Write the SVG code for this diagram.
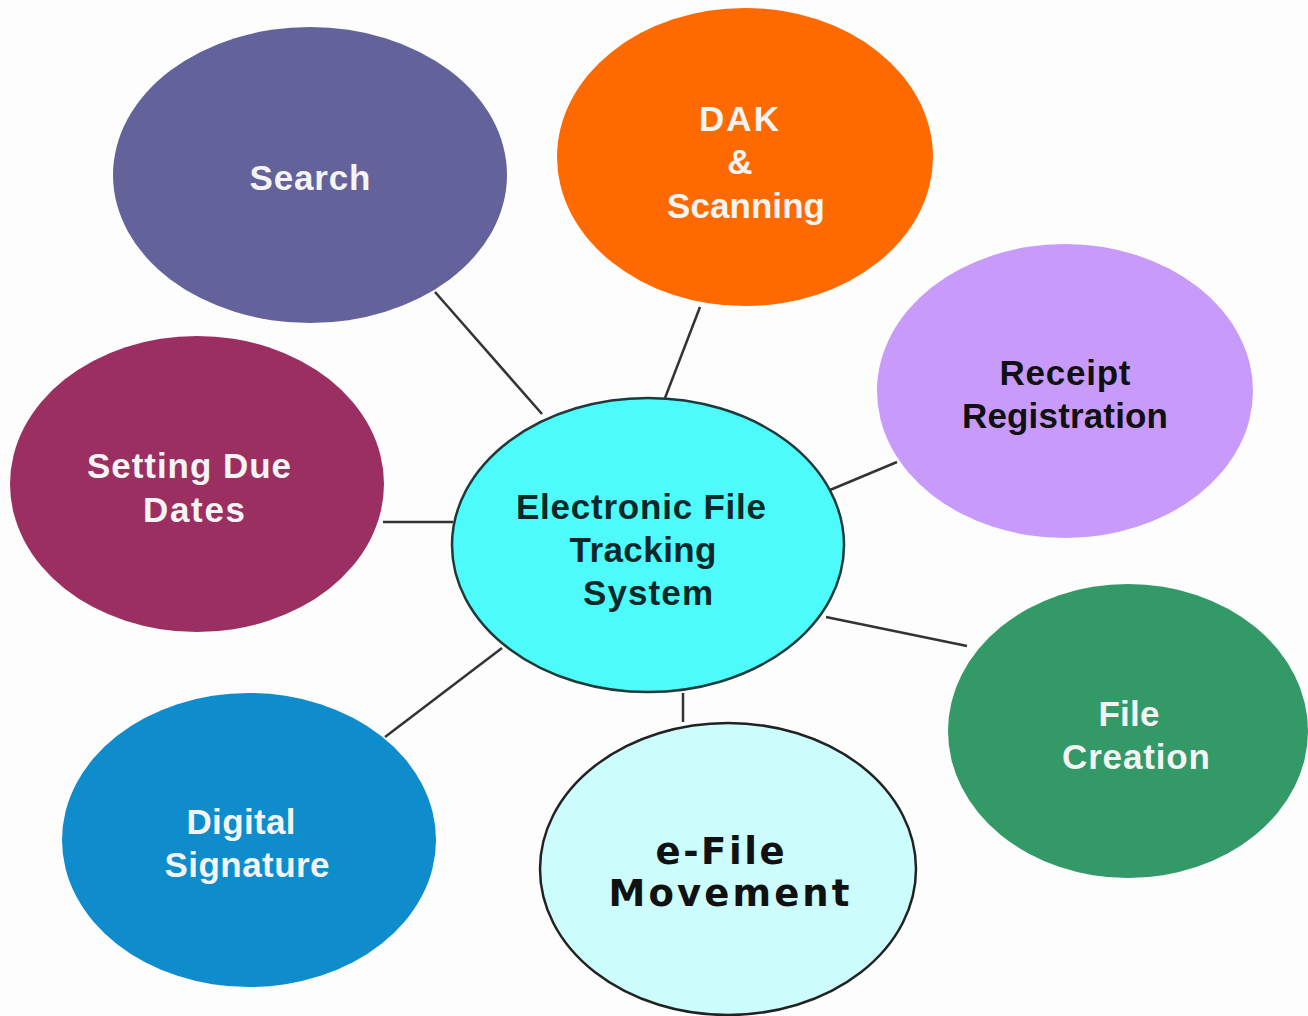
<svg xmlns="http://www.w3.org/2000/svg" width="1308" height="1016" viewBox="0 0 1308 1016">
<style>
.t{font-family:"Liberation Sans",Arial,sans-serif;font-weight:bold;font-size:35px;text-anchor:middle}
.w{fill:#f4f4f4}
.k{fill:#111}
.v{font-family:"DejaVu Sans",Verdana,sans-serif;font-weight:bold;font-size:37px;text-anchor:middle;fill:#111}
.c{stroke:#333;stroke-width:2.5;fill:none}
</style>
<rect width="1308" height="1016" fill="#fdfdfd"/>
<g id="connectors">
<line class="c" x1="435" y1="292" x2="542" y2="414"/>
<line class="c" x1="700" y1="307" x2="665" y2="398"/>
<line class="c" x1="897" y1="462" x2="830" y2="490"/>
<line class="c" x1="383" y1="522" x2="453" y2="522"/>
<line class="c" x1="826" y1="617" x2="967" y2="646"/>
<line class="c" x1="683" y1="693" x2="683" y2="722"/>
<line class="c" x1="502" y1="648" x2="385" y2="737"/>
</g>
<g id="search">
<ellipse cx="310" cy="175" rx="197" ry="148" fill="#63629a"/>
<text class="t w" x="310" y="190" textLength="121">Search</text>
</g>
<g id="dak">
<ellipse cx="745" cy="157" rx="188" ry="149" fill="#ff6a00"/>
<text class="t w" x="739" y="131" textLength="80">DAK</text>
<text class="t w" x="740" y="174">&amp;</text>
<text class="t w" x="746" y="218" textLength="158">Scanning</text>
</g>
<g id="receipt">
<ellipse cx="1065" cy="391" rx="188" ry="147" fill="#c89bfa"/>
<text class="t k" x="1065" y="385" textLength="131">Receipt</text>
<text class="t k" x="1065" y="428" textLength="206">Registration</text>
</g>
<g id="duedates">
<ellipse cx="197" cy="484" rx="187" ry="148" fill="#9b2f62"/>
<text class="t w" x="189" y="478" textLength="204">Setting Due</text>
<text class="t w" x="194" y="522" textLength="102">Dates</text>
</g>
<g id="center">
<ellipse cx="648" cy="545" rx="196" ry="147" fill="#4dfbfb" stroke="#1f3a3a" stroke-width="2.5"/>
<text class="t" fill="#0c2828" x="641" y="519" textLength="250">Electronic File</text>
<text class="t" fill="#0c2828" x="643" y="562" textLength="147">Tracking</text>
<text class="t" fill="#0c2828" x="648" y="605" textLength="130">System</text>
</g>
<g id="filecreation">
<ellipse cx="1128" cy="731" rx="180" ry="147" fill="#339966"/>
<text class="t w" x="1129" y="726" textLength="61">File</text>
<text class="t w" x="1136" y="769" textLength="148">Creation</text>
</g>
<g id="efile">
<ellipse cx="728" cy="869" rx="188" ry="146" fill="#ccfcfc" stroke="#222" stroke-width="2.5"/>
<text class="v" x="720" y="864" textLength="129">e-File</text>
<text class="v" x="729" y="906" textLength="241">Movement</text>
</g>
<g id="digital">
<ellipse cx="249" cy="840" rx="187" ry="147" fill="#0e8ccc"/>
<text class="t w" x="241" y="834" textLength="109">Digital</text>
<text class="t w" x="247" y="877" textLength="165">Signature</text>
</g>
</svg>
